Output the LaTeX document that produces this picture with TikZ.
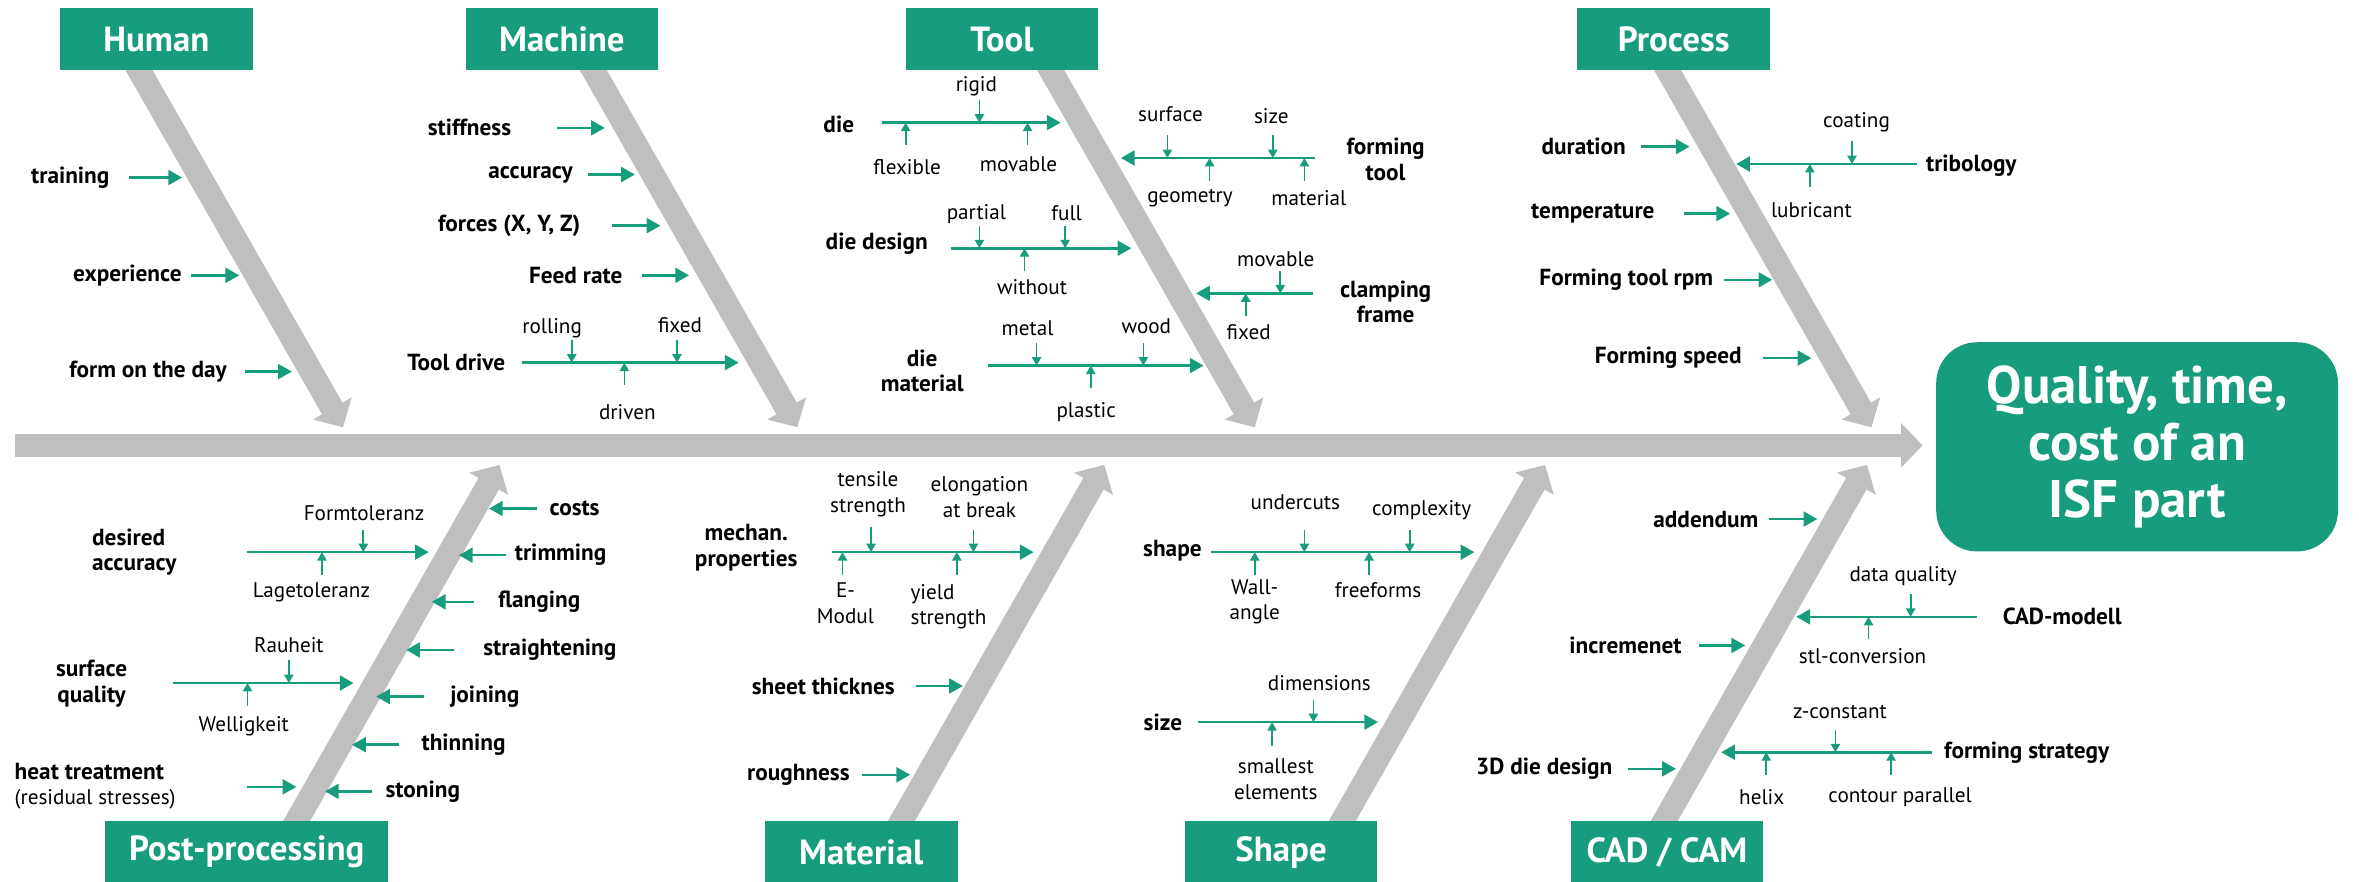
\documentclass[tikz,border=0pt]{standalone}
\usepackage{fontspec}
\setmainfont{PT Sans}
\usetikzlibrary{arrows.meta}
\definecolor{isfgreen}{HTML}{179C7D}
\definecolor{isfgray}{HTML}{BFBFBF}

\tikzset{
  bone/.style={isfgray, line width=0.39cm, -{Triangle[length=0.36cm,width=0.72cm]}},
  cause/.style={isfgreen, line width=1.2pt, -{Triangle[length=6.5pt,width=7pt]}},
  tick/.style={isfgreen, line width=0.8pt, -{Triangle[length=4pt,width=4.4pt]}},
  head/.style={fill=isfgreen, text=white, inner sep=0pt, minimum width=3.2cm, minimum height=1.03cm,
    font=\fontsize{16.5}{19}\selectfont\bfseries},
  lbl/.style={inner sep=0pt, align=center, font=\fontsize{11}{12}\selectfont\bfseries},
  sub/.style={inner sep=0pt, align=center, font=\fontsize{10}{12}\selectfont},
}

\begin{document}
\begin{tikzpicture}[x=0.025cm,y=-0.025cm]
  \useasboundingbox (0,0) rectangle (1568,586);

  % spine and bones
  \coordinate (spS) at (10,296);       \coordinate (spE) at (1278,296);
  \coordinate (humT) at (88.6,40);     \coordinate (humE) at (228,284);
  \coordinate (macT) at (390.6,40);    \coordinate (macE) at (530,284);
  \coordinate (tolT) at (694.6,40);    \coordinate (tolE) at (834,284);
  \coordinate (proT) at (1104.6,40);   \coordinate (proE) at (1244,284);
  \coordinate (posT) at (193.6,552);   \coordinate (posE) at (332,309);
  \coordinate (matT) at (595.6,552);   \coordinate (matE) at (734,309);
  \coordinate (shaT) at (888.6,552);   \coordinate (shaE) at (1027,309);
  \coordinate (cadT) at (1102.6,552);  \coordinate (cadE) at (1241,309);
  \draw[bone] (spS) -- (spE);
  \draw[bone] (humT) -- (humE);
  \draw[bone] (macT) -- (macE);
  \draw[bone] (tolT) -- (tolE);
  \draw[bone] (proT) -- (proE);
  \draw[bone] (posT) -- (posE);
  \draw[bone] (matT) -- (matE);
  \draw[bone] (shaT) -- (shaE);
  \draw[bone] (cadT) -- (cadE);

  \node[head] (human) at (104,26) {Human};
  \node[head] (machine) at (373.5,26) {Machine};
  \node[head] (tool) at (666,26) {Tool};
  \node[head] (process) at (1112.5,26) {Process};
  \node[head, minimum width=4.7cm] (post) at (164,566.5) {Post-processing};
  \node[head] (material) at (572.5,566.5) {Material};
  \node[head] (shape) at (851.5,566.5) {Shape};
  \node[head] (cadcam) at (1108,566.5) {CAD / CAM};

  \node[fill=isfgreen, text=white, rounded corners=0.68cm, minimum width=6.675cm, minimum height=3.475cm,
    align=center, font=\fontsize{25}{27}\selectfont\bfseries] (isf) at (1420.5,297)
    {Quality, time,\\cost of an\\ISF part};

  % Human
  \coordinate (trnS) at (86,118);   \coordinate (trnE) at (121,118);
  \coordinate (expS) at (127,183);  \coordinate (expE) at (159,183);
  \coordinate (fodS) at (163,247);  \coordinate (fodE) at (194,247);
  \node[lbl, anchor=east] (trn) at (73,118) {training};
  \node[lbl, anchor=east] (exp) at (121,183) {experience};
  \node[lbl, anchor=east] (fod) at (151,247) {form on the day};
  \draw[cause] (trnS) -- (trnE);
  \draw[cause] (expS) -- (expE);
  \draw[cause] (fodS) -- (fodE);

  % Machine
  \coordinate (stfS) at (370,85);   \coordinate (stfE) at (402,85);
  \coordinate (accS) at (391,116);  \coordinate (accE) at (422,116);
  \coordinate (forS) at (407,150);  \coordinate (forE) at (439,150);
  \coordinate (feeS) at (427,183);  \coordinate (feeE) at (458,183);
  \coordinate (tdrS) at (347,241);  \coordinate (tdrE) at (491,241);
  \node[lbl, anchor=east] (stf) at (340,85) {stiffness};
  \node[lbl, anchor=east] (acc) at (381,116) {accuracy};
  \node[lbl, anchor=east] (for) at (386,150) {forces (X, Y, Z)};
  \node[lbl, anchor=east] (fee) at (414,183) {Feed rate};
  \node[lbl, anchor=east] (tdr) at (336,241) {Tool drive};
  \draw[cause] (stfS) -- (stfE);
  \draw[cause] (accS) -- (accE);
  \draw[cause] (forS) -- (forE);
  \draw[cause] (feeS) -- (feeE);
  \draw[cause] (tdrS) -- (tdrE);
  \coordinate (rolT) at (380,226);  \coordinate (fixT) at (450,226);  \coordinate (drvT) at (415,256);
  \draw[tick] (rolT) -- (rolT |- tdrS);
  \draw[tick] (fixT) -- (fixT |- tdrS);
  \draw[tick] (drvT) -- (drvT |- tdrS);
  \node[sub] (rol) at (367,218) {rolling};
  \node[sub] (fix) at (452,216) {fixed};
  \node[sub] (drv) at (417,274) {driven};

  % Tool
  \coordinate (dieS) at (586,81.5); \coordinate (dieE) at (705,81.5);
  \node[lbl, anchor=east] (die) at (568,83) {die};
  \draw[cause] (dieS) -- (dieE);
  \coordinate (rigT) at (651,66.5); \coordinate (flxT) at (602,96.5); \coordinate (mvaT) at (683,96.5);
  \draw[tick] (rigT) -- (rigT |- dieS);
  \draw[tick] (flxT) -- (flxT |- dieS);
  \draw[tick] (mvaT) -- (mvaT |- dieS);
  \node[sub] (rig) at (649,57) {rigid};
  \node[sub] (flx) at (603,111) {flexible};
  \node[sub] (mva) at (677,109) {movable};

  \coordinate (ftlS) at (874,105);  \coordinate (ftlE) at (745,105);
  \node[lbl] (ftl) at (921,106) {forming\\tool};
  \draw[cause] (ftlS) -- (ftlE);
  \coordinate (surT) at (776,90);   \coordinate (sizT) at (846,90);
  \coordinate (geoT) at (804,120);  \coordinate (mtlT) at (867,120);
  \draw[tick] (surT) -- (surT |- ftlS);
  \draw[tick] (sizT) -- (sizT |- ftlS);
  \draw[tick] (geoT) -- (geoT |- ftlS);
  \draw[tick] (mtlT) -- (mtlT |- ftlS);
  \node[sub] (sur) at (778,76) {surface};
  \node[sub] (siz) at (845,77) {size};
  \node[sub] (geo) at (791,132) {geometry};
  \node[sub] (mtl) at (870,132) {material};

  \coordinate (ddsS) at (632,165);  \coordinate (ddsE) at (752,165);
  \node[lbl, anchor=east] (dds) at (617,162) {die design};
  \draw[cause] (ddsS) -- (ddsE);
  \coordinate (parT) at (651,150);  \coordinate (fulT) at (708,150);  \coordinate (witT) at (681,180);
  \draw[tick] (parT) -- (parT |- ddsS);
  \draw[tick] (fulT) -- (fulT |- ddsS);
  \draw[tick] (witT) -- (witT |- ddsS);
  \node[sub] (par) at (649,142) {partial};
  \node[sub] (ful) at (709,142) {full};
  \node[sub] (wit) at (686,191) {without};

  \coordinate (clfS) at (873,195);  \coordinate (clfE) at (795,195);
  \node[lbl] (clf) at (921,200.5) {clamping\\frame};
  \draw[cause] (clfS) -- (clfE);
  \coordinate (mvbT) at (851,180);  \coordinate (fxbT) at (828,210);
  \draw[tick] (mvbT) -- (mvbT |- clfS);
  \draw[tick] (fxbT) -- (fxbT |- clfS);
  \node[sub] (mvb) at (848,172) {movable};
  \node[sub] (fxb) at (830,221) {fixed};

  \coordinate (dmaS) at (657,243);  \coordinate (dmaE) at (800,243);
  \node[lbl] (dma) at (613,246.5) {die\\material};
  \draw[cause] (dmaS) -- (dmaE);
  \coordinate (metT) at (689,228);  \coordinate (wodT) at (760,228);  \coordinate (plaT) at (725,258);
  \draw[tick] (metT) -- (metT |- dmaS);
  \draw[tick] (wodT) -- (wodT |- dmaS);
  \draw[tick] (plaT) -- (plaT |- dmaS);
  \node[sub] (met) at (683,218) {metal};
  \node[sub] (wod) at (762,217) {wood};
  \node[sub] (pla) at (722,274) {plastic};

  % Process
  \coordinate (durS) at (1091,97.5); \coordinate (durE) at (1123,97.5);
  \coordinate (tmpS) at (1119,142);  \coordinate (tmpE) at (1150,142);
  \coordinate (rpmS) at (1146,186);  \coordinate (rpmE) at (1178,186);
  \coordinate (spdS) at (1172,238);  \coordinate (spdE) at (1204,238);
  \node[lbl, anchor=east] (dur) at (1081,97.5) {duration};
  \node[lbl, anchor=east] (tmp) at (1100,142) {temperature};
  \node[lbl, anchor=east] (rpm) at (1139,186) {Forming tool rpm};
  \node[lbl, anchor=east] (spd) at (1158,238) {Forming speed};
  \draw[cause] (durS) -- (durE);
  \draw[cause] (tmpS) -- (tmpE);
  \draw[cause] (rpmS) -- (rpmE);
  \draw[cause] (spdS) -- (spdE);
  \coordinate (triS) at (1274,109); \coordinate (triE) at (1154,109);
  \node[lbl, anchor=west] (tri) at (1280,110) {tribology};
  \draw[cause] (triS) -- (triE);
  \coordinate (coaT) at (1231,94);  \coordinate (lubT) at (1203,124);
  \draw[tick] (coaT) -- (coaT |- triS);
  \draw[tick] (lubT) -- (lubT |- triS);
  \node[sub] (coa) at (1234,81.5) {coating};
  \node[sub] (lub) at (1204,140) {lubricant};

  % Post-processing
  \coordinate (dacS) at (164,367);  \coordinate (dacE) at (285,367);
  \node[lbl, anchor=west, align=left] (dac) at (61,367) {desired\\accuracy};
  \draw[cause] (dacS) -- (dacE);
  \coordinate (frtT) at (241.5,352); \coordinate (lgtT) at (214,382);
  \draw[tick] (frtT) -- (frtT |- dacS);
  \draw[tick] (lgtT) -- (lgtT |- dacS);
  \node[sub] (frt) at (242,341) {Formtoleranz};
  \node[sub] (lgt) at (207,394) {Lagetoleranz};

  \coordinate (sfqS) at (115,454);  \coordinate (sfqE) at (235,454);
  \node[lbl, anchor=west] (sfq) at (37,454.5) {surface\\quality};
  \draw[cause] (sfqS) -- (sfqE);
  \coordinate (rauT) at (192,439);  \coordinate (welT) at (164.5,469);
  \draw[tick] (rauT) -- (rauT |- sfqS);
  \draw[tick] (welT) -- (welT |- sfqS);
  \node[sub] (rau) at (192,429) {Rauheit};
  \node[sub] (wel) at (162,483) {Welligkeit};

  \coordinate (hetS) at (164,523);  \coordinate (hetE) at (197,523);
  \node[lbl, anchor=west, align=left] (het) at (9.5,522.5)
    {heat treatment\\{\mdseries\fontsize{10}{12}\selectfont(residual stresses)}};
  \draw[cause] (hetS) -- (hetE);

  \coordinate (cstS) at (357,338);  \coordinate (cstE) at (325,338);
  \coordinate (trmS) at (336,369);  \coordinate (trmE) at (305,369);
  \coordinate (flaS) at (315,400);  \coordinate (flaE) at (287,400);
  \coordinate (strS) at (302,432);  \coordinate (strE) at (270,432);
  \coordinate (joiS) at (282,463);  \coordinate (joiE) at (250,463);
  \coordinate (thiS) at (265,495);  \coordinate (thiE) at (234,495);
  \coordinate (stoS) at (247,526);  \coordinate (stoE) at (216,526);
  \node[lbl, anchor=west] (cst) at (365,338) {costs};
  \node[lbl, anchor=west] (trm) at (342,369) {trimming};
  \node[lbl, anchor=west] (fla) at (331,400) {flanging};
  \node[lbl, anchor=west] (str) at (321,432) {straightening};
  \node[lbl, anchor=west] (joi) at (299,463) {joining};
  \node[lbl, anchor=west] (thi) at (280,495) {thinning};
  \node[lbl, anchor=west] (sto) at (256,526) {stoning};
  \draw[cause] (cstS) -- (cstE);
  \draw[cause] (trmS) -- (trmE);
  \draw[cause] (flaS) -- (flaE);
  \draw[cause] (strS) -- (strE);
  \draw[cause] (joiS) -- (joiE);
  \draw[cause] (thiS) -- (thiE);
  \draw[cause] (stoS) -- (stoE);

  % Material
  \coordinate (mprS) at (553,367);  \coordinate (mprE) at (687,367);
  \node[lbl] (mpr) at (496,364) {mechan.\\properties};
  \draw[cause] (mprS) -- (mprE);
  \coordinate (tenT) at (579,350);  \coordinate (eloT) at (647,352);
  \coordinate (emoT) at (560,382);  \coordinate (yldT) at (636,382);
  \draw[tick] (tenT) -- (tenT |- mprS);
  \draw[tick] (eloT) -- (eloT |- mprS);
  \draw[tick] (emoT) -- (emoT |- mprS);
  \draw[tick] (yldT) -- (yldT |- mprS);
  \node[sub] (ten) at (577,328.5) {tensile\\strength};
  \node[sub] (elo) at (651,330.5) {elongation\\at break};
  \node[sub] (emo) at (562,401) {E-\\Modul};
  \node[sub, anchor=west, align=left] (yld) at (605,403.5) {yield\\strength};

  \coordinate (shtS) at (609,456);  \coordinate (shtE) at (640,456);
  \coordinate (rghS) at (573,515);  \coordinate (rghE) at (605,515);
  \node[lbl, anchor=east] (sht) at (595,456) {sheet thicknes};
  \node[lbl, anchor=east] (rgh) at (565,515) {roughness};
  \draw[cause] (shtS) -- (shtE);
  \draw[cause] (rghS) -- (rghE);

  % Shape
  \coordinate (shpS) at (805,367);  \coordinate (shpE) at (980,367);
  \node[lbl, anchor=east] (shp) at (799,366) {shape};
  \draw[cause] (shpS) -- (shpE);
  \coordinate (undT) at (867,352);  \coordinate (cpxT) at (937,352);
  \coordinate (walT) at (834,382);  \coordinate (frfT) at (910,382);
  \draw[tick] (undT) -- (undT |- shpS);
  \draw[tick] (cpxT) -- (cpxT |- shpS);
  \draw[tick] (walT) -- (walT |- shpS);
  \draw[tick] (frfT) -- (frfT |- shpS);
  \node[sub] (und) at (861,334) {undercuts};
  \node[sub] (cpx) at (945,339) {complexity};
  \node[sub] (wal) at (834,400) {Wall-\\angle};
  \node[sub] (frf) at (916,392) {freeforms};

  \coordinate (sizS) at (796,480);  \coordinate (sizE) at (916,480);
  \node[lbl, anchor=east] (sze) at (786,480) {size};
  \draw[cause] (sizS) -- (sizE);
  \coordinate (dimT) at (873,465);  \coordinate (smlT) at (845.5,496);
  \draw[tick] (dimT) -- (dimT |- sizS);
  \draw[tick] (smlT) -- (smlT |- sizS);
  \node[sub] (dim) at (877,454) {dimensions};
  \node[sub] (sml) at (848,518) {smallest\\elements};

  % CAD / CAM
  \coordinate (addS) at (1176,345); \coordinate (addE) at (1208,345);
  \coordinate (incS) at (1129,429); \coordinate (incE) at (1160,429);
  \coordinate (ddgS) at (1082,511); \coordinate (ddgE) at (1114,511);
  \node[lbl, anchor=east] (add) at (1169,345) {addendum};
  \node[lbl, anchor=east] (inc) at (1118,429) {incremenet};
  \node[lbl, anchor=east] (ddg) at (1072,511) {3D die design};
  \draw[cause] (addS) -- (addE);
  \draw[cause] (incS) -- (incE);
  \draw[cause] (ddgS) -- (ddgE);

  \coordinate (cadS) at (1314,410); \coordinate (cadF) at (1194,410);
  \node[lbl, anchor=west] (cad) at (1331,410) {CAD-modell};
  \draw[cause] (cadS) -- (cadF);
  \coordinate (dqlT) at (1270,395); \coordinate (stlT) at (1242,425);
  \draw[tick] (dqlT) -- (dqlT |- cadS);
  \draw[tick] (stlT) -- (stlT |- cadS);
  \node[sub] (dql) at (1265,383) {data quality};
  \node[sub] (stl) at (1238,436) {stl-conversion};

  \coordinate (fstS) at (1284,500); \coordinate (fstE) at (1144,500);
  \node[lbl, anchor=west] (fst) at (1292,500) {forming strategy};
  \draw[cause] (fstS) -- (fstE);
  \coordinate (zcoT) at (1220,485); \coordinate (helT) at (1174,515); \coordinate (conT) at (1257,515);
  \draw[tick] (zcoT) -- (zcoT |- fstS);
  \draw[tick] (helT) -- (helT |- fstS);
  \draw[tick] (conT) -- (conT |- fstS);
  \node[sub] (zco) at (1223,473) {z-constant};
  \node[sub] (hel) at (1171,530) {helix};
  \node[sub] (con) at (1263,530) {contour parallel};
\end{tikzpicture}
\end{document}
